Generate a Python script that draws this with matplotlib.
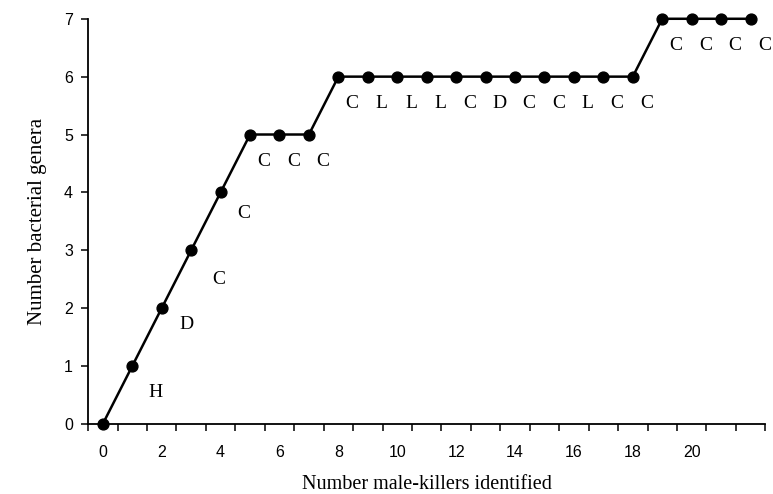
import matplotlib
matplotlib.use("Agg")
import matplotlib.pyplot as plt
import numpy as np

# Data
n_killers = list(range(0, 23))
n_genera = [0, 1, 2, 3, 4, 5, 5, 5, 6, 6, 6, 6, 6, 6, 6, 6, 6, 6, 6, 7, 7, 7, 7]
letters = ["H", "D", "C", "C", "C", "C", "C", "C", "L", "L", "L", "C", "D",
           "C", "C", "L", "C", "C", "C", "C", "C", "C"]
x_tick_labels = ["0", "2", "4", "6", "8", "10", "12", "14", "16", "18", "20"]
y_ticks = [0, 1, 2, 3, 4, 5, 6, 7]

fig = plt.figure(figsize=(7.73, 4.94), dpi=100)
ax = fig.add_axes([0.114, 0.142, 0.876, 0.820])

ax.plot(n_killers, n_genera, color="black", lw=1.8, marker="o", ms=7.8,
        markerfacecolor="black", markeredgecolor="black", clip_on=False, zorder=3)

# letter annotations (offset from each point)
special = {1: (0.80, -0.45), 2: (0.84, -0.29), 3: (0.92, -0.51), 4: (0.77, -0.36)}
for k, lab in enumerate(letters, start=1):
    dx, dy = special.get(k, (0.47, -0.47))
    ax.text(n_killers[k] + dx, n_genera[k] + dy, lab, ha="center", va="center",
            fontsize=14, family="Liberation Serif")

ax.set_xlim(-0.5, 22.5)
ax.set_ylim(0, 7)

ax.spines["top"].set_visible(False)
ax.spines["right"].set_visible(False)
for s in ["left", "bottom"]:
    ax.spines[s].set_linewidth(1.3)

x_major = [int(v) for v in x_tick_labels]
ax.set_xticks(x_major)
ax.set_xticklabels(x_tick_labels, family="Liberation Sans", fontsize=11.5)
ax.set_xticks(np.arange(-0.5, 23.0, 1.0), minor=True)
ax.tick_params(axis="x", which="major", length=0, pad=15)
ax.tick_params(axis="x", which="minor", direction="out", length=5, width=1.1)

ax.set_yticks(y_ticks)
ax.set_yticklabels([str(v) for v in y_ticks], family="Liberation Sans", fontsize=11.5)
ax.tick_params(axis="y", direction="out", length=5, width=1.1, pad=6)

ax.set_xlabel("Number male-killers identified", family="Liberation Serif",
              fontsize=14.5, labelpad=11)
ax.set_ylabel("Number bacterial genera", family="Liberation Serif",
              fontsize=15, labelpad=12)

fig.savefig("out.png", dpi=100)
